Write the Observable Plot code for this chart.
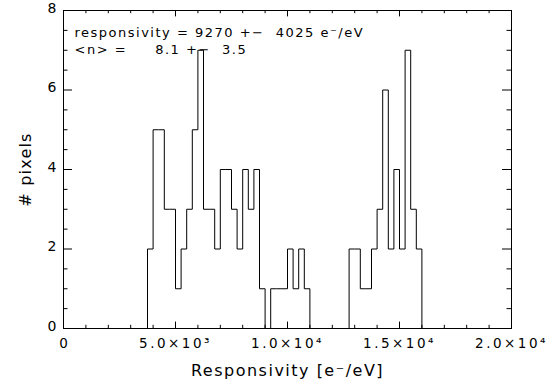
<!DOCTYPE html>
<html>
<head>
<meta charset="utf-8">
<script src="https://cdn.jsdelivr.net/npm/d3@7"></script>
<script src="https://cdn.jsdelivr.net/npm/@observablehq/plot@0.6"></script>
<style>
  html, body { margin: 0; padding: 0; background: #fff; }
  svg text { white-space: pre; }
</style>
</head>
<body>
<div id="chart"></div>
<script>
// Histogram bins (left edges, e-/eV) and counts
const binStart = [0, 3750, 4000, 4250, 4500, 4750, 5000, 5250, 5500, 5750, 6000,
  6250, 6500, 6750, 7000, 7250, 7500, 7750, 8000, 8250, 8500, 8750, 9000,
  9250, 9500, 9750, 10000, 10250, 10500, 10750, 11000,
  12750, 13000, 13250, 13500, 13750, 14000, 14250, 14500, 14750, 15000,
  15250, 15500, 15750, 16000, 20000];
const counts = [0, 2, 5, 5, 3, 3, 1, 2, 3, 5, 7,
  3, 3, 2, 4, 4, 3, 2, 4, 3, 4, 1, 0,
  1, 1, 1, 2, 1, 2, 1, 0,
  2, 2, 1, 1, 2, 3, 6, 2, 4, 2,
  7, 3, 2, 0, 0];

const xMajor = [0, 5000, 10000, 15000, 20000];
const xTickLabels = ["0", "5.0×10³", "1.0×10⁴", "1.5×10⁴", "2.0×10⁴"];
const xMinor = [1000, 2000, 3000, 4000, 6000, 7000, 8000, 9000, 11000, 12000, 13000, 14000, 16000, 17000, 18000, 19000];
const yMajor = [0, 2, 4, 6, 8];
const yTickLabels = ["0", "2", "4", "6", "8"];
const yMinor = [0.5, 1, 1.5, 2.5, 3, 3.5, 4.5, 5, 5.5, 6.5, 7, 7.5];

const annotation = ["responsivity = 9270 +−  4025 e⁻/eV", "<n> =     8.1 +−  3.5"];
const xTitle = "Responsivity [e⁻/eV]";
const yTitle = "# pixels";

const hist = binStart.map((x, i) => ({x, y: counts[i]}));

const W = 554, H = 389, ML = 63, MR = 43, MT = 10, MB = 61;
const fw = W - ML - MR, fh = H - MT - MB;

const chart = Plot.plot({
  width: W,
  height: H,
  marginLeft: ML,
  marginRight: MR,
  marginTop: MT,
  marginBottom: MB,
  x: {domain: [0, 20000]},
  y: {domain: [0, 8]},
  axis: null,
  style: {fontFamily: "DejaVu Sans", fontSize: "13.5px", color: "black", background: "white"},
  marks: [
    Plot.frame({stroke: "black"}),
    // major/minor ticks pointing inward on all sides
    Plot.ruleX(xMajor, {x: d => d, insetTop: fh - 6.4, stroke: "black"}),
    Plot.ruleX(xMinor, {x: d => d, insetTop: fh - 3.2, stroke: "black"}),
    Plot.ruleX(xMajor, {x: d => d, insetBottom: fh - 6.4, stroke: "black"}),
    Plot.ruleX(xMinor, {x: d => d, insetBottom: fh - 3.2, stroke: "black"}),
    Plot.ruleY(yMajor, {y: d => d, insetRight: fw - 9, stroke: "black"}),
    Plot.ruleY(yMinor, {y: d => d, insetRight: fw - 4.5, stroke: "black"}),
    Plot.ruleY(yMajor, {y: d => d, insetLeft: fw - 9, stroke: "black"}),
    Plot.ruleY(yMinor, {y: d => d, insetLeft: fw - 4.5, stroke: "black"}),
    // tick labels
    Plot.text(xMajor, {x: d => d, text: (d, i) => xTickLabels[i], frameAnchor: "bottom", lineAnchor: "top", dy: 10, fontSize: 13.5}),
    Plot.text(yMajor, {y: d => d, text: (d, i) => yTickLabels[i], frameAnchor: "left", textAnchor: "end", dx: -7, dy: -2, fontSize: 14}),
    // histogram
    Plot.line(hist, {x: "x", y: "y", curve: "step-after", stroke: "black", strokeWidth: 1}),
    // annotation
    Plot.text([annotation.join("\n")], {frameAnchor: "top-left", textAnchor: "start", lineAnchor: "top", dx: 11, dy: 15, fontSize: 13, lineHeight: 1.27}),
    // axis titles
    Plot.text([xTitle], {frameAnchor: "bottom", textAnchor: "middle", dy: 42, lineAnchor: "middle", fontSize: 16}),
    Plot.text([yTitle], {frameAnchor: "left", textAnchor: "middle", dx: -38, rotate: -90, lineAnchor: "middle", fontSize: 16})
  ]
});

// IDL-like wide lettering
d3.select(chart).selectAll("text").each(function() {
  const t = this.textContent;
  let ls = null;
  if (xTickLabels.includes(t) && t !== "0") ls = "2.5px";
  else if (t.startsWith("responsivity")) ls = "1.5px";
  else if (t === xTitle) ls = "1.5px";
  else if (t === yTitle) ls = "1.2px";
  if (ls) this.style.letterSpacing = ls;
});
document.getElementById("chart").appendChild(chart);
</script>
</body>
</html>
